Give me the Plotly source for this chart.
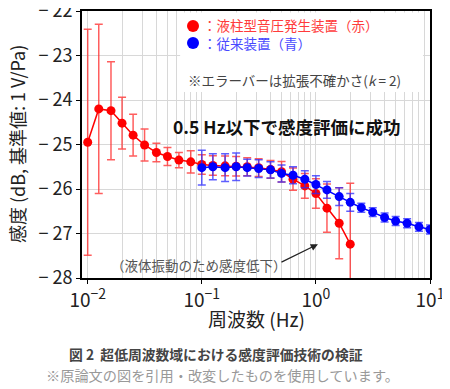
import plotly.graph_objects as go

# ---- data ----
red_freq = [0.01, 0.0125, 0.016, 0.02, 0.025, 0.0315, 0.04, 0.05, 0.063, 0.08,
            0.1, 0.125, 0.16, 0.2, 0.25, 0.315, 0.4, 0.5, 0.63, 0.8,
            1.0, 1.25, 1.6, 2.0]
red_sens = [-24.95, -24.2, -24.24, -24.52, -24.79, -25.01, -25.18, -25.27, -25.35, -25.39,
            -25.45, -25.47, -25.48, -25.49, -25.5, -25.52, -25.56, -25.61, -25.78, -25.93,
            -26.1, -26.43, -26.77, -27.24]
red_err = [2.54, 1.9, 1.1, 0.58, 0.47, 0.36, 0.21, 0.2, 0.17, 0.25,
           0.22, 0.22, 0.22, 0.22, 0.2, 0.2, 0.2, 0.23, 0.25, 0.28,
           0.33, 0.54, 0.8, 1.37]

blue_freq = [0.1, 0.125, 0.16, 0.2, 0.25, 0.315, 0.4, 0.5, 0.63, 0.8,
             1.0, 1.25, 1.6, 2.0, 2.5, 3.15, 4.0, 5.0, 6.3, 8.0, 10.0]
blue_sens = [-25.52, -25.5, -25.52, -25.5, -25.52, -25.54, -25.57, -25.65, -25.69, -25.78,
             -25.9, -26.02, -26.17, -26.3, -26.42, -26.52, -26.64, -26.72, -26.77, -26.85, -26.91]
blue_err = [0.39, 0.29, 0.31, 0.31, 0.19, 0.2, 0.18, 0.19, 0.19, 0.19,
            0.2, 0.19, 0.2, 0.2, 0.1, 0.1, 0.1, 0.1, 0.1, 0.1, 0.1]

x_tickvals = [0.01, 0.1, 1, 10]
x_ticktext = ["10<sup><span style='font-size:14px'>−2</span></sup>",
              "10<sup><span style='font-size:14px'>−1</span></sup>",
              "10<sup><span style='font-size:14px'>0</span></sup>",
              "10<sup><span style='font-size:14px'>1</span></sup>"]
y_tickvals = [-28, -27, -26, -25, -24, -23, -22]
y_ticktext = ["− 28", "− 27", "− 26", "− 25", "− 24", "− 23", "− 22"]

FONT = "Noto Sans CJK JP"
RED = "#ff0000"
BLUE = "#0000ff"
GRID = "#d8d8d8"

fig = go.Figure()
fig.add_trace(go.Scatter(
    x=red_freq, y=red_sens, mode="lines+markers",
    line=dict(color=RED, width=1.5),
    marker=dict(color=RED, size=9),
    error_y=dict(type="data", array=red_err, color="rgba(255,40,40,0.75)", thickness=1.5, width=4),
    showlegend=False))
fig.add_trace(go.Scatter(
    x=blue_freq, y=blue_sens, mode="lines+markers",
    line=dict(color=BLUE, width=1.5),
    marker=dict(color=BLUE, size=9),
    error_y=dict(type="data", array=blue_err, color="rgba(40,40,255,0.75)", thickness=1.5, width=4),
    showlegend=False))

# invisible helper trace on an overlay axis that only draws the minor (2..9) log grid
fig.add_trace(go.Scatter(x=[0.1], y=[-30], xaxis="x2", mode="markers",
                         marker=dict(opacity=0), showlegend=False, hoverinfo="skip"))

fig.update_layout(
    xaxis=dict(
        type="log", range=[-2.05, 1.0],
        tickvals=x_tickvals, ticktext=x_ticktext,
        showgrid=True, gridcolor=GRID, gridwidth=1,
        showline=True, linecolor="black", linewidth=2, mirror=True,
        ticks="outside", ticklen=4, tickcolor="black",
        tickfont=dict(family=FONT, size=19, color="#222"),
        ticklabeloverflow="allow", automargin=False, zeroline=False),
    xaxis2=dict(
        type="log", range=[-2.05, 1.0], overlaying="x", side="bottom",
        dtick="D1", showticklabels=False, ticks="", showgrid=True,
        gridcolor=GRID, gridwidth=1, showline=False, zeroline=False, automargin=False),
    yaxis=dict(
        range=[-28, -22], tickvals=y_tickvals, ticktext=y_ticktext,
        showgrid=True, gridcolor=GRID, gridwidth=1,
        showline=True, linecolor="black", linewidth=2, mirror=True,
        ticks="outside", ticklen=4, tickcolor="black",
        tickfont=dict(family=FONT, size=18, color="#222"),
        ticklabeloverflow="allow", automargin=False, zeroline=False),
)

shapes = [
    dict(type="rect", xref="paper", yref="paper", x0=0.282, x1=0.98, y0=0.697, y1=0.994,
         fillcolor="white", line=dict(width=0), layer="above"),
    dict(type="circle", xref="paper", yref="paper", xsizemode="pixel", ysizemode="pixel",
         xanchor=0.319, yanchor=0.944, x0=-6, x1=6, y0=-6, y1=6,
         fillcolor=RED, line=dict(width=0)),
    dict(type="circle", xref="paper", yref="paper", xsizemode="pixel", ysizemode="pixel",
         xanchor=0.319, yanchor=0.880, x0=-6, x1=6, y0=-6, y1=6,
         fillcolor=BLUE, line=dict(width=0)),
]

annotations = [
    dict(xref="paper", yref="paper", x=0.343, y=0.912, xanchor="left", yanchor="middle",
         align="left",
         text="<span style='color:#ff3b3b'>：液柱型音圧発生装置（赤）</span><br>"
              "<span style='color:#4848ff'>：従来装置（青）</span>",
         showarrow=False, font=dict(family=FONT, size=13.5)),
    dict(xref="paper", yref="paper", x=0.298, y=0.742, xanchor="left", yanchor="middle",
         text="※エラーバーは拡張不確かさ(<i>k</i> = 2)", showarrow=False,
         font=dict(family=FONT, size=13.5, color="#444")),
    dict(xref="paper", yref="paper", x=0.590, y=0.569, xanchor="center", yanchor="middle",
         text="<b>0.5 Hz以下で感度評価に成功</b>", showarrow=False,
         font=dict(family=FONT, size=17.5, color="#111")),
    dict(xref="x", yref="y", x=-1.024, y=-27.71, xanchor="center", yanchor="middle",
         text="（液体振動のため感度低下）", showarrow=False,
         font=dict(family=FONT, size=13.5, color="#555")),
    dict(xref="x", yref="y", x=0.018, y=-27.24, axref="x", ayref="y", ax=-0.315, ay=-27.66,
         text="", showarrow=True, arrowhead=2, arrowsize=1.2, arrowwidth=1.2, arrowcolor="#222"),
    # axis titles
    dict(xref="paper", yref="paper", x=0.5, y=-0.15, xanchor="center", yanchor="middle",
         text="周波数 (Hz)", showarrow=False,
         font=dict(family=FONT, size=19, color="#222")),
    dict(xref="paper", yref="paper", x=-0.188, y=0.5, xanchor="center", yanchor="middle",
         text="感度 (dB, 基準値: 1 V/Pa)", showarrow=False, textangle=-90,
         font=dict(family=FONT, size=18, color="#222")),
    # caption
    dict(xref="paper", yref="paper", x=0.385, y=-0.285, xanchor="center", yanchor="middle",
         text="<b>図 2  超低周波数域における感度評価技術の検証</b>", showarrow=False,
         font=dict(family=FONT, size=13.8, color="#444")),
    dict(xref="paper", yref="paper", x=0.403, y=-0.362, xanchor="center", yanchor="middle",
         text="※原論文の図を引用・改変したものを使用しています。", showarrow=False,
         font=dict(family=FONT, size=14.2, color="#999")),
]

# the page body adds an 8 px margin, so the figure is shifted/sized to compensate
fig.update_layout(
    width=442, height=381,
    margin=dict(l=74, r=20, t=3, b=111),
    paper_bgcolor="white", plot_bgcolor="white",
    font=dict(family=FONT),
    shapes=shapes, annotations=annotations,
    showlegend=False)

fig.write_html("out.html")
